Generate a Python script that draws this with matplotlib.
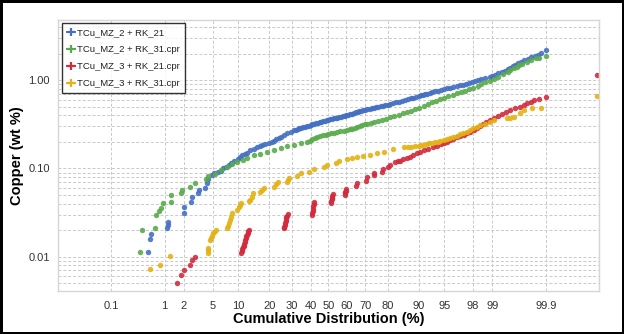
import numpy as np
import matplotlib
matplotlib.use('Agg')
import matplotlib.pyplot as plt
from matplotlib.lines import Line2D
from matplotlib.ticker import FixedLocator, FixedFormatter, LogLocator, NullFormatter
from statistics import NormalDist

plt.rcParams['font.family'] = ['Liberation Sans', 'DejaVu Sans']

labels = ['TCu_MZ_2 + RK_21', 'TCu_MZ_2 + RK_31.cpr',
          'TCu_MZ_3 + RK_21.cpr', 'TCu_MZ_3 + RK_31.cpr']
colors = ['#4570C2', '#5AAA4C', '#D22B3D', '#E3B215']

# cumulative % / copper (wt %) for each series
blueP = [0.53, 0.56, 0.58, 1.10, 1.12, 1.14, 1.98, 2.02, 2.55, 2.62, 3.15, 3.25,
         4.0, 4.2, 4.35, 4.9, 5.2, 5.8, 6.3, 6.8, 7.2, 7.9, 8.4, 9.0, 9.9, 10.5,
         11.0, 11.8, 12.5, 13.4, 14.5, 15.6, 16.5, 17.4, 18.5, 19.9, 21.0, 22, 23,
         24, 25, 26.5, 28, 29.5,
         31, 32, 33, 34, 35, 36, 37, 38, 39, 40, 41, 42, 43, 44, 45, 46, 47, 48,
         49, 50, 51, 52, 53, 54, 55, 56, 57, 58, 59, 60, 61, 62, 63, 64, 65, 66,
         67, 68, 69, 70, 71, 72, 73, 74, 75, 76, 77, 78, 79, 80, 81, 82, 83, 84,
         85, 86, 87, 87.8, 88.5, 89.2, 90, 90.5, 91, 91.5, 92, 92.5, 93, 93.5,
         94, 94.5, 95, 95.4, 95.8, 96.2, 96.6, 96.9, 97.2, 97.45, 97.7, 97.9,
         98.1, 98.3, 98.5, 98.7, 98.9, 99.0, 99.1, 99.2, 99.3, 99.38, 99.45,
         99.5, 99.55, 99.6, 99.65, 99.69, 99.73, 99.77, 99.8, 99.83, 99.85,
         99.87, 99.9]
blueV = [0.0112, 0.0161, 0.0181, 0.0211, 0.0230, 0.0251, 0.0317, 0.0370, 0.0415,
         0.0481, 0.0524, 0.0571, 0.0606, 0.068, 0.0755, 0.0845, 0.0884, 0.092,
         0.0945, 0.100, 0.1047, 0.1095, 0.116, 0.1227, 0.128, 0.135, 0.142, 0.147,
         0.151, 0.162, 0.168, 0.174, 0.179, 0.184, 0.190, 0.196, 0.201, 0.207,
         0.215, 0.222, 0.229, 0.238, 0.250, 0.262,
         0.272, 0.276, 0.280, 0.284, 0.288, 0.292, 0.297, 0.301, 0.306, 0.310,
         0.315, 0.320, 0.325, 0.330, 0.335, 0.339, 0.344, 0.348, 0.352, 0.356,
         0.360, 0.364, 0.369, 0.373, 0.377, 0.381, 0.386, 0.390, 0.395, 0.400,
         0.405, 0.411, 0.418, 0.425, 0.432, 0.438, 0.445, 0.450, 0.456, 0.462,
         0.468, 0.474, 0.480, 0.486, 0.492, 0.499, 0.506, 0.514, 0.522, 0.530,
         0.539, 0.549, 0.560, 0.571, 0.583, 0.595, 0.608, 0.621, 0.635, 0.648,
         0.660, 0.671, 0.683, 0.694, 0.705, 0.717, 0.730, 0.745, 0.760, 0.775,
         0.790, 0.805, 0.820, 0.837, 0.855, 0.872, 0.890, 0.910, 0.930, 0.950,
         0.970, 0.995, 1.02, 1.055, 1.09, 1.12, 1.15, 1.195, 1.24, 1.285, 1.33,
         1.38, 1.43, 1.49, 1.55, 1.61, 1.68, 1.75, 1.82, 1.89, 1.95, 2.02, 2.22]

greenP = [0.37, 0.41, 0.68, 0.73, 0.80, 0.88, 0.94, 1.25, 1.28, 1.79, 1.9, 2.5,
          2.9, 4.05, 4.3, 5.3, 6.3, 7.5, 8.6, 9.8, 11.3, 12.5, 14.5, 16.7, 19.2,
          21.9, 24.8, 27.9, 31.1, 34.6, 38.1, 39.5, 41, 42.3, 43.6, 45.3, 47,
          48.5, 50, 51.5, 53, 54.7, 56.5, 58.5, 60.5, 61.8, 63, 64.4, 65.8, 67.2,
          68.5, 69.8, 71, 72.5, 74, 75.8, 77.5, 79.3, 81, 82.5, 84, 85.4, 86.8,
          88, 89, 90.1, 91.2, 92.1, 93, 93.7, 94.4, 95, 95.5, 96.1, 96.6, 97,
          97.4, 97.7, 98.0, 98.3, 98.5, 98.7, 98.9, 99.05, 99.2, 99.35, 99.45,
          99.51, 99.57, 99.62, 99.66, 99.7, 99.76, 99.8, 99.84, 99.86, 99.9]
greenV = [0.0112, 0.0202, 0.0211, 0.0298, 0.0326, 0.0355, 0.0405, 0.0422, 0.0502,
          0.0524, 0.0571, 0.0622, 0.069, 0.0755, 0.0822, 0.0867, 0.0962, 0.105,
          0.113, 0.119, 0.125, 0.131, 0.141, 0.147, 0.155, 0.162, 0.169, 0.180,
          0.186, 0.193, 0.202, 0.207, 0.213, 0.219, 0.226, 0.232, 0.238, 0.242,
          0.246, 0.250, 0.254, 0.258, 0.263, 0.267, 0.272, 0.277, 0.283, 0.289,
          0.296, 0.303, 0.310, 0.316, 0.322, 0.330, 0.338, 0.347, 0.357, 0.368,
          0.379, 0.391, 0.405, 0.421, 0.438, 0.453, 0.470, 0.490, 0.512, 0.535,
          0.560, 0.582, 0.605, 0.630, 0.655, 0.680, 0.707, 0.733, 0.760, 0.789,
          0.818, 0.860, 0.900, 0.950, 0.990, 1.04, 1.10, 1.18, 1.24, 1.30, 1.36,
          1.42, 1.47, 1.52, 1.61, 1.68, 1.76, 1.80, 1.87]

redP = [1.55, 1.79, 2.0, 2.5, 2.66, 2.87,
        10.8, 10.95, 11.1, 11.25, 11.4, 11.55, 11.7, 11.9, 12.05, 12.2, 12.4,
        12.6, 12.75, 12.9,
        26.3, 26.5, 26.7, 26.9, 27.1, 27.3, 27.55, 27.8, 28.2,
        40.9, 41.0, 41.15, 41.3, 41.45, 41.6, 41.7,
        51.5, 51.65, 51.8, 51.95, 52.1, 52.4,
        59.1, 59.3, 59.5, 59.7, 59.9,
        65.4, 65.8, 70.4, 70.9, 74, 74.3, 77.7, 78.2, 80, 80.8,
        82.9, 83.7, 84.5, 85.6, 86.8, 87.7, 88.5, 89.5, 90.4, 91.3, 92.2, 93.1,
        93.9, 94.5, 95.0, 95.4, 95.8, 96.2, 96.6, 96.9, 97.25, 97.55, 97.8,
        98.05, 98.25, 98.45, 98.6, 98.75, 98.9, 99.05, 99.2, 99.3, 99.42, 99.51,
        99.6, 99.67, 99.72, 99.76, 99.8, 99.82, 99.86, 99.9, 99.993]
redV = [0.0051, 0.0062, 0.00713, 0.0081, 0.00925, 0.0100,
        0.0110, 0.0116, 0.0122, 0.0128, 0.0134, 0.0141, 0.0148, 0.0155, 0.0162,
        0.0170, 0.0178, 0.0186, 0.0194, 0.0202,
        0.0211, 0.0220, 0.0232, 0.0244, 0.0256, 0.0268, 0.0280, 0.0293, 0.0307,
        0.0298, 0.0315, 0.0333, 0.0352, 0.0372, 0.0392, 0.0412,
        0.0405, 0.0425, 0.0446, 0.0467, 0.0488, 0.0511,
        0.0502, 0.0522, 0.0542, 0.0562, 0.0582,
        0.0635, 0.068, 0.0728, 0.0807, 0.0845, 0.090, 0.092, 0.0985, 0.103, 0.1095,
        0.117, 0.120, 0.123, 0.127, 0.131, 0.136, 0.142, 0.148, 0.155, 0.161,
        0.167, 0.173, 0.180, 0.187, 0.195, 0.202, 0.210, 0.217, 0.225, 0.232,
        0.239, 0.250, 0.260, 0.275, 0.290, 0.305, 0.320, 0.335, 0.350, 0.370,
        0.390, 0.410, 0.435, 0.458, 0.480, 0.500, 0.520, 0.545, 0.570, 0.594,
        0.620, 0.645, 1.14]

yellowP = [0.56, 0.84, 1.21, 4.34, 4.38, 4.42, 4.6, 4.75, 4.9, 5.05, 5.25, 5.45,
           7.5, 7.7, 7.9, 8.15, 8.4, 8.6, 9.8, 10.1, 10.35, 10.6, 12.9, 13.2,
           13.9, 14.3, 16.7, 17.3, 17.9, 21.9, 22.8, 23.6, 27.9, 28.3, 28.7, 32.9,
           34.6, 39, 41.7, 47.3, 49.3, 54, 55.8, 60.5, 63, 65.8, 69, 72.4, 75.5,
           78.4, 82, 85.7, 87, 88, 89, 90, 90.6, 91.2, 91.8, 92.3, 92.9, 93.5, 94,
           94.4, 94.9, 95.4, 95.8, 96.2, 96.6, 96.9, 97.2, 97.5, 97.75, 98.0,
           98.25, 98.45, 98.7, 98.9, 99.05, 99.44, 99.5, 99.57, 99.67, 99.72,
           99.81, 99.87, 99.993]
yellowV = [0.0073, 0.0081, 0.0101, 0.0110, 0.0118, 0.0126, 0.0156, 0.0165, 0.0174,
           0.0185, 0.0193, 0.0202, 0.0211, 0.0225, 0.024, 0.0262, 0.0285, 0.0310,
           0.034, 0.0365, 0.0385, 0.0405, 0.0425, 0.0441, 0.048, 0.0524, 0.0538,
           0.057, 0.0597, 0.0622, 0.066, 0.0698, 0.0709, 0.075, 0.079, 0.0822,
           0.0884, 0.0905, 0.098, 0.105, 0.1095, 0.114, 0.120, 0.127, 0.130, 0.134,
           0.138, 0.142, 0.148, 0.155, 0.165, 0.174, 0.176, 0.177, 0.179, 0.180,
           0.183, 0.186, 0.189, 0.192, 0.195, 0.198, 0.201, 0.205, 0.210, 0.216,
           0.222, 0.228, 0.236, 0.245, 0.253, 0.262, 0.273, 0.285, 0.297, 0.310,
           0.323, 0.338, 0.355, 0.375, 0.377, 0.379, 0.420, 0.458, 0.478, 0.490,
           0.664]

xTicks = [0.1, 1, 2, 5, 10, 20, 30, 40, 50, 60, 70, 80, 90, 95, 98, 99, 99.9]
xTickLabels = ['0.1', '1', '2', '5', '10', '20', '30', '40', '50', '60', '70',
               '80', '90', '95', '98', '99', '99.9']
yTicks = [0.01, 0.1, 1]
yTickLabels = ['0.01', '0.10', '1.00']

nd = NormalDist()

def toZ(p):
    p = np.clip(np.asarray(p, dtype=float) / 100.0, 1e-9, 1 - 1e-9)
    return np.vectorize(nd.inv_cdf, otypes=[float])(p)

def fromZ(z):
    return np.vectorize(nd.cdf, otypes=[float])(np.asarray(z, dtype=float)) * 100.0


fig = plt.figure(figsize=(6.24, 3.34), dpi=100)
fig.patch.set_edgecolor('black')
fig.patch.set_linewidth(2.5)
ax = fig.add_axes([58 / 624, 1 - 291 / 334, 541 / 624, 271 / 334])

allSeries = [(blueP, blueV), (greenP, greenV), (redP, redV), (yellowP, yellowV)]
for (p, v), c in zip(allSeries, colors):
    ax.plot(p, v, 'o', ms=3.9, color=c, mec='none', alpha=0.9, clip_on=False)

ax.set_yscale('log')
ax.set_ylim(0.0041, 4.8)
ax.set_xscale('function', functions=(toZ, fromZ))
ax.set_xlim(float(fromZ(-3.84)), float(fromZ(3.84)))

ax.xaxis.set_major_locator(FixedLocator(xTicks))
ax.xaxis.set_major_formatter(FixedFormatter(xTickLabels))
ax.xaxis.set_minor_locator(FixedLocator([]))
ax.yaxis.set_major_locator(FixedLocator(yTicks))
ax.yaxis.set_major_formatter(FixedFormatter(yTickLabels))
ax.yaxis.set_minor_locator(LogLocator(base=10, subs=np.arange(2, 10)))
ax.yaxis.set_minor_formatter(NullFormatter())

ax.tick_params(which='both', length=0, labelsize=8, labelcolor='#333333')
ax.tick_params(axis='x', pad=7)
ax.tick_params(axis='y', pad=6)

gridKw = dict(color='#c9c9c9', linestyle=(0, (3, 2)), linewidth=0.7)
ax.grid(True, which='major', axis='both', **gridKw)
ax.grid(True, which='minor', axis='y', **gridKw)
ax.set_axisbelow(True)
for s in ax.spines.values():
    s.set_color('#d6d6d6')
    s.set_linewidth(1)

ax.set_xlabel('Cumulative Distribution (%)', fontsize=10.5, fontweight='bold', labelpad=1)
ax.set_ylabel('Copper (wt %)', fontsize=10.5, fontweight='bold', labelpad=3)

handles = [Line2D([], [], color=c, marker='+', ms=6, mew=1.6, lw=1.4) for c in colors]
leg = ax.legend(handles, labels, loc='upper left', bbox_to_anchor=(0.007, 0.99),
                fontsize=6.8, frameon=True, fancybox=False, handlelength=0.8,
                handletextpad=0.3, labelspacing=0.85, borderpad=0.55,
                borderaxespad=0.0)
leg.get_frame().set_edgecolor('black')
leg.get_frame().set_linewidth(1.0)
for t in leg.get_texts():
    t.set_color('#222222')

fig.savefig('out.png', dpi=100)
